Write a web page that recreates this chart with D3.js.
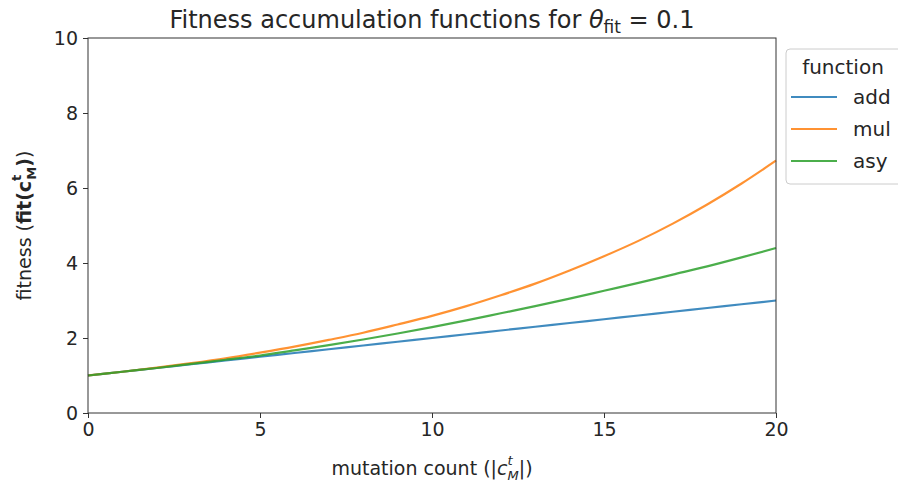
<!DOCTYPE html>
<html>
<head>
<meta charset="utf-8">
<script src="https://cdn.jsdelivr.net/npm/d3@7"></script>
<style>
  body { margin: 0; background: #fff; }
  svg { font-family: "DejaVu Sans", sans-serif; }
</style>
</head>
<body>
<svg id="chart" width="898" height="482"></svg>
<script>
// mutation counts along the x axis
const counts = d3.range(0, 21);

// fitness values, one per count
const addValues = [1.00, 1.10, 1.20, 1.30, 1.40, 1.50, 1.60, 1.70, 1.80, 1.90, 2.00,
                   2.10, 2.20, 2.30, 2.40, 2.50, 2.60, 2.70, 2.80, 2.90, 3.00];
const mulValues = [1.00, 1.10, 1.21, 1.33, 1.46, 1.61, 1.77, 1.95, 2.14, 2.36, 2.59,
                   2.85, 3.14, 3.45, 3.80, 4.18, 4.59, 5.05, 5.56, 6.12, 6.73];
const asyValues = [1.00, 1.10, 1.20, 1.31, 1.42, 1.53, 1.67, 1.81, 1.96, 2.12, 2.29,
                   2.47, 2.66, 2.85, 3.05, 3.26, 3.47, 3.69, 3.91, 4.15, 4.40];

const seriesNames = ['add', 'mul', 'asy'];
const seriesColors = ['#1f77b4', '#ff7f0e', '#2ca02c'];
const xTicks = [0, 5, 10, 15, 20];
const yTicks = [0, 2, 4, 6, 8, 10];

const series = [addValues, mulValues, asyValues].map((vals, i) => ({
    name: seriesNames[i],
    color: seriesColors[i],
    points: counts.map((c, j) => [c, vals[j]])
}));

const margin = { left: 88, right: 122, top: 38, bottom: 69 };
const width = 898, height = 482;

const svg = d3.select('#chart');

const x = d3.scaleLinear().domain([0, 20]).range([margin.left, width - margin.right]);
const y = d3.scaleLinear().domain([0, 10]).range([height - margin.bottom, margin.top]);

// lines
const line = d3.line()
    .x(d => x(d[0]))
    .y(d => y(d[1]))
    .curve(d3.curveMonotoneX);

svg.append('g')
    .selectAll('path')
    .data(series)
    .enter().append('path')
        .attr('d', d => line(d.points))
        .attr('fill', 'none')
        .attr('stroke', d => d.color)
        .attr('stroke-opacity', 0.85)
        .attr('stroke-width', 2.2);

// axes
const xAxis = svg.append('g')
    .attr('transform', 'translate(0,' + y(0) + ')')
    .call(d3.axisBottom(x).tickValues(xTicks).tickSize(5).tickPadding(5));
const yAxis = svg.append('g')
    .attr('transform', 'translate(' + x(0) + ',0)')
    .call(d3.axisLeft(y).tickValues(yTicks).tickSize(5).tickPadding(5));

[xAxis, yAxis].forEach(a => {
    a.selectAll('text').attr('font-size', 19).attr('fill', '#262626')
        .attr('font-family', '"DejaVu Sans", sans-serif');
    a.selectAll('line').attr('stroke', '#333');
    a.select('.domain').remove();
});

// frame
svg.append('rect')
    .attr('x', x(0)).attr('y', y(10))
    .attr('width', x(20) - x(0)).attr('height', y(0) - y(10))
    .attr('fill', 'none')
    .attr('stroke', '#333')
    .attr('stroke-width', 1);

// title
const title = svg.append('text')
    .attr('x', (x(0) + x(20)) / 2)
    .attr('y', 28)
    .attr('text-anchor', 'middle')
    .attr('font-size', 24)
    .attr('fill', '#262626');
title.append('tspan').text('Fitness accumulation functions for ');
title.append('tspan').attr('font-style', 'italic').text('θ');
title.append('tspan').attr('font-size', 17).attr('dy', 5).text('fit');
title.append('tspan').attr('dy', -5).text(' = 0.1');

// x label
const xl = svg.append('text')
    .attr('x', (x(0) + x(20)) / 2)
    .attr('y', 475)
    .attr('text-anchor', 'middle')
    .attr('font-size', 19)
    .attr('fill', '#262626');
xl.append('tspan').text('mutation count (|');
xl.append('tspan').attr('font-style', 'italic').text('c');
xl.append('tspan').attr('font-style', 'italic').attr('font-size', 13).attr('dy', -10).text('t');
xl.append('tspan').attr('font-style', 'italic').attr('font-size', 13).attr('dx', -5).attr('dy', 15).text('M');
xl.append('tspan').attr('dy', -5).text('|)');

// y label
const yl = svg.append('text')
    .attr('transform', 'translate(31,' + ((y(0) + y(10)) / 2) + ') rotate(-90)')
    .attr('text-anchor', 'middle')
    .attr('font-size', 19)
    .attr('fill', '#262626');
yl.append('tspan').text('fitness (');
yl.append('tspan').attr('font-weight', 'bold').text('fit(c');
yl.append('tspan').attr('font-weight', 'bold').attr('font-size', 13).attr('dy', -10).text('t');
yl.append('tspan').attr('font-weight', 'bold').attr('font-size', 13).attr('dx', -5).attr('dy', 15).text('M');
yl.append('tspan').attr('font-weight', 'bold').attr('dy', -5).text(')');
yl.append('tspan').text(')');

// legend
const legend = svg.append('g').attr('transform', 'translate(786,49)');
legend.append('rect')
    .attr('x', 0).attr('y', 0)
    .attr('width', 130).attr('height', 135)
    .attr('rx', 4)
    .attr('fill', '#fff')
    .attr('stroke', '#ccc');
legend.append('text')
    .attr('x', 57).attr('y', 25)
    .attr('text-anchor', 'middle')
    .attr('font-size', 20)
    .attr('fill', '#262626')
    .text('function');
const items = legend.selectAll('g.item')
    .data(series)
    .enter().append('g')
        .attr('class', 'item')
        .attr('transform', (d, i) => 'translate(0,' + (48 + i * 32) + ')');
items.append('line')
    .attr('x1', 5).attr('x2', 51)
    .attr('stroke', d => d.color)
    .attr('stroke-opacity', 0.85)
    .attr('stroke-width', 2.2);
items.append('text')
    .attr('x', 67).attr('y', 7)
    .attr('font-size', 20)
    .attr('fill', '#262626')
    .text(d => d.name);
</script>
</body>
</html>
